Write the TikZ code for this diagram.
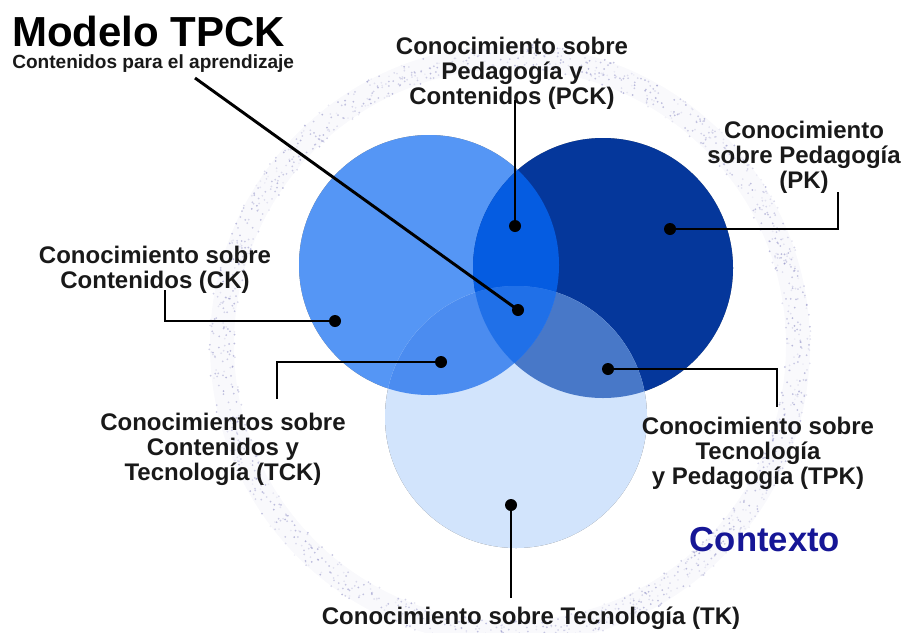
\documentclass[tikz,border=0pt]{standalone}
\usepackage{fontspec}
\setmainfont{Liberation Sans}
\usetikzlibrary{positioning}
\definecolor{colC}{RGB}{85,150,245}
\definecolor{colP}{RGB}{5,55,155}
\definecolor{colT}{RGB}{210,228,252}
\definecolor{colPC}{RGB}{5,92,225}
\definecolor{colTC}{RGB}{75,140,240}
\definecolor{colTP}{RGB}{72,120,200}
\definecolor{colTPC}{RGB}{32,112,232}
\definecolor{contexto}{RGB}{22,22,150}
\definecolor{ringcol}{RGB}{140,140,195}
\tikzstyle{etiqueta} = [align=center, inner sep=0pt, font=\bfseries\fontsize{18}{18.8}\selectfont, text=black!90]
\tikzstyle{bullet} = [circle, fill=black, inner sep=0pt, minimum size=9pt]
\tikzstyle{leader} = [line width=2.2pt, black]
\tikzstyle{sombra} = [fill=black, opacity=0.22]
\newcommand{\circC}{(cC) circle (130)}
\newcommand{\circP}{(cP) circle (130)}
\newcommand{\circT}{(cT) circle (131)}

\begin{document}
\begin{tikzpicture}[x=0.75pt,y=-0.75pt]
                \useasboundingbox (0,0) rectangle (906,632);
                \coordinate (ring) at (510,345);
                \coordinate (cC) at (429,265);
                \coordinate (cP) at (603,268);
                \coordinate (cT) at (516,417);
                % contexto ring
                \draw [ringcol, line width=18pt, opacity=0.05] (ring) circle (288);
                \pgfmathsetseed{17}
                \foreach \i in {1,...,1500}{
                    \pgfmathsetmacro\ang{360*rnd}
                    \pgfmathsetmacro\rad{288+13*rand}
                    \pgfmathsetmacro\op{0.1+0.5*rnd}
                    \fill [ringcol, opacity=\op, shift={(ring)}] (\ang:\rad) circle (1);
                }
                % shadows
                \foreach \s in {3,5,7}{
                    \fill [sombra, shift={(\s,\s)}] \circC;
                    \fill [sombra, shift={(\s,\s)}] \circP;
                    \fill [sombra, shift={(\s,\s)}] \circT;
                }
                % circles
                \fill [colC] \circC;
                \fill [colP] \circP;
                \fill [colT] \circT;
                \begin{scope}
                    \clip \circP;
                    \fill [colTP] \circT;
                \end{scope}
                \begin{scope}
                    \clip \circC;
                    \fill [colPC] \circP;
                    \fill [colTC] \circT;
                    \clip \circP;
                    \fill [colTPC] \circT;
                \end{scope}
                % texts
                \node (title) [anchor=base west, inner sep=0pt, font=\bfseries\fontsize{31.5}{32}\selectfont] at (12,46) {Modelo TPCK};
                \node (sub) [anchor=base west, inner sep=0pt, font=\bfseries\fontsize{14.3}{15}\selectfont, text=black!90] at (12,68) {Contenidos para el aprendizaje};
                \node (pck) [etiqueta] at (512,73) {Conocimiento sobre\\Pedagogía y\\Contenidos (PCK)};
                \node (pk) [etiqueta] at (804,157) {Conocimiento\\sobre Pedagogía\\(PK)};
                \node (ck) [etiqueta] at (155,270) {Conocimiento sobre\\Contenidos (CK)};
                \node (tck) [etiqueta] at (223,449) {Conocimientos sobre\\Contenidos y\\Tecnología (TCK)};
                \node (tpk) [etiqueta] at (758,453) {Conocimiento sobre\\Tecnología\\y Pedagogía (TPK)};
                \node (tk) [etiqueta] at (531,618) {Conocimiento sobre Tecnología (TK)};
                \node (ctx) [inner sep=0pt, font=\bfseries\fontsize{26}{27}\selectfont, text=contexto] at (765,540) {Contexto};
                % dots
                \node (dpck) [bullet] at (515,226) {};
                \node (dtpck) [bullet] at (518,310) {};
                \node (dpk) [bullet] at (670,229) {};
                \node (dck) [bullet] at (335,321) {};
                \node (dtck) [bullet] at (441,362) {};
                \node (dtpk) [bullet] at (608,369) {};
                \node (dtk) [bullet] at (511,505) {};
                % leader ends
                \coordinate (esub) at (195,78);
                \coordinate (epck) at (515,100);
                \coordinate (epk) at (838,192);
                \coordinate (eck) at (165,290);
                \coordinate (etck) at (277,399);
                \coordinate (etpk) at (777,407);
                \coordinate (etk) at (511,598);
                \draw [leader] (esub) -- (dtpck.center);
                \draw [leader] (epck) -- (dpck.center);
                \draw [leader] (epk) |- (dpk.center);
                \draw [leader] (eck) |- (dck.center);
                \draw [leader] (etck) |- (dtck.center);
                \draw [leader] (etpk) |- (dtpk.center);
                \draw [leader] (dtk.center) -- (etk);
            \end{tikzpicture}
\end{document}
